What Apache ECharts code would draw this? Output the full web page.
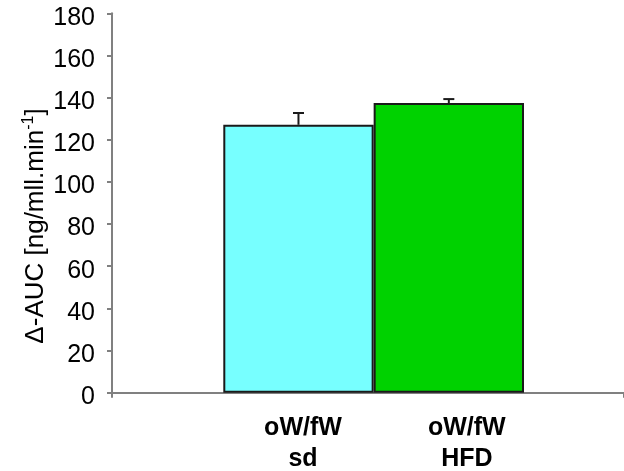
<!DOCTYPE html>
<html>
<head>
<meta charset="utf-8">
<script src="https://cdn.jsdelivr.net/npm/echarts@6/dist/echarts.min.js"></script>
<style>html,body{margin:0;padding:0;background:#fff}#c{width:624px;height:471px}</style>
</head>
<body>
<div id="c"></div>
<script>
const categories = ['oW/fW\nsd', 'oW/fW\nHFD'];
const values = [127.1, 137.4];
const errors = [5.6, 1.9];
const barColors = ['#77ffff', '#00d200'];
const yTicks = { min: 0, max: 180, interval: 20 };
const labelShift = [9, 36];

const chart = echarts.init(document.getElementById('c'), null, { renderer: 'canvas' });
const FONT = 'Liberation Sans, Arial, sans-serif';
const gridTop = 13.3, gridBottom = 471 - 392.7;

chart.setOption({
  animation: false,
  backgroundColor: '#fff',
  grid: [
    { left: 112, right: 0, top: gridTop, bottom: gridBottom, outerBoundsMode: 'none', containLabel: false },
    { left: 223.3, width: 300.7, top: gridTop, bottom: gridBottom, outerBoundsMode: 'none', containLabel: false }
  ],
  xAxis: [
    { gridIndex: 0, type: 'value', min: 0, max: 1, interval: 1,
      axisLine: { show: true, lineStyle: { color: '#808080', width: 2 } },
      axisTick: { show: true, length: 5, lineStyle: { color: '#808080', width: 2 } },
      axisLabel: { show: false }, splitLine: { show: false } },
    { gridIndex: 1, type: 'category',
      data: categories.map((c, i) => ({ value: c, textStyle: { padding: [0, 0, 0, labelShift[i]] } })),
      axisLine: { show: false }, axisTick: { show: false }, splitLine: { show: false },
      axisLabel: { margin: 20, fontFamily: FONT, fontSize: 25, fontWeight: 'bold', color: '#000', lineHeight: 31, interval: 0 } }
  ],
  yAxis: [
    { gridIndex: 0, type: 'value', min: yTicks.min, max: yTicks.max, interval: yTicks.interval,
      axisLine: { show: true, lineStyle: { color: '#808080', width: 2 } },
      axisTick: { show: true, length: 5, lineStyle: { color: '#808080', width: 2 } },
      splitLine: { show: false },
      axisLabel: { margin: 17, fontFamily: FONT, fontSize: 25, color: '#000', verticalAlign: 'top', lineHeight: 9 } },
    { gridIndex: 1, type: 'value', min: yTicks.min, max: yTicks.max, interval: yTicks.interval, show: false }
  ],
  graphic: [{
    type: 'text', x: 36, y: 226, rotation: Math.PI / 2,
    style: {
      text: '{a|Δ-AUC [ng/mll.min}{s|-1}{a|]}',
      rich: {
        a: { fontFamily: FONT, fontSize: 26, fill: '#000', lineHeight: 30 },
        s: { fontFamily: FONT, fontSize: 16, fill: '#000', verticalAlign: 'top', lineHeight: 30 }
      },
      align: 'center', verticalAlign: 'middle'
    }
  }],
  series: [
    { type: 'bar', xAxisIndex: 1, yAxisIndex: 1, barWidth: '100%',
      data: values.map((v, i) => ({ value: v, itemStyle: { color: barColors[i] } })),
      itemStyle: { borderColor: '#1a1a1a', borderWidth: 2 } },
    { type: 'custom', xAxisIndex: 1, yAxisIndex: 1, z: 5,
      data: values.map((v, i) => [i, v, v + errors[i]]),
      renderItem: function (params, api) {
        const p0 = api.coord([api.value(0), api.value(1)]);
        const p1 = api.coord([api.value(0), api.value(2)]);
        const x = p0[0];
        return { type: 'group', children: [
          { type: 'line', shape: { x1: x, y1: p0[1], x2: x, y2: p1[1] }, style: { stroke: '#1a1a1a', lineWidth: 2 } },
          { type: 'line', shape: { x1: x - 5.5, y1: p1[1], x2: x + 5.5, y2: p1[1] }, style: { stroke: '#1a1a1a', lineWidth: 2 } }
        ] };
      } }
  ]
});
</script>
</body>
</html>
